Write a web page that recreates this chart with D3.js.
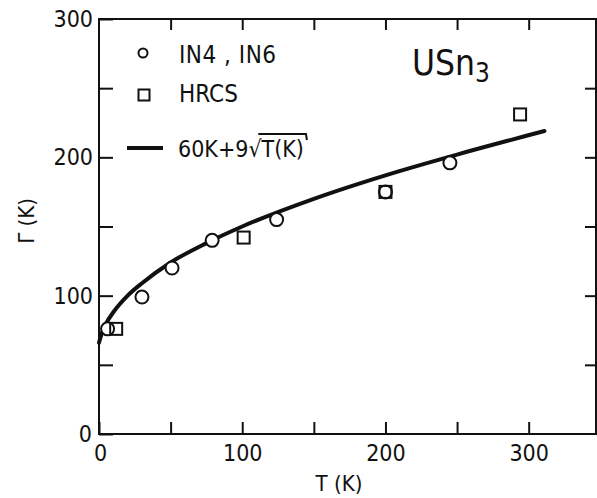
<!DOCTYPE html>
<html>
<head>
<meta charset="utf-8">
<script src="https://cdn.jsdelivr.net/npm/d3@7"></script>
<style>
  body { margin: 0; background: #fff; }
  text { font-family: "DejaVu Sans Condensed", "DejaVu Sans", sans-serif; fill: #111; }
</style>
</head>
<body>
<svg id="chart" width="597" height="498"></svg>
<script>
// IN4, IN6 (open circles)
const tofT = [6, 30, 51, 79, 124, 200, 245];
const tofG = [76, 99, 120, 140, 155, 175, 196];

// HRCS (open squares)
const hrcsT = [12, 101, 200, 294];
const hrcsG = [76, 142, 175, 231];

// 60K + 9 sqrt(T) curve
const fitT = [0, 2, 5, 10, 20, 30, 50, 75, 100, 150, 200, 250, 311];
const fitG = [66, 73, 80, 88, 100, 109, 124, 138, 150, 170, 187, 202, 219];

// ticks
const xTicks = [0, 50, 100, 150, 200, 250, 300];
const xLabels = [0, 100, 200, 300];
const yTicks = [0, 50, 100, 150, 200, 250, 300];
const yLabels = [0, 100, 200, 300];

const svg = d3.select("#chart");

const x = d3.scaleLinear().domain([0, 347]).range([99, 596]);
const y = d3.scaleLinear().domain([0, 300]).range([434, 19]);

const ink = "#111";

// frame
svg.append("rect")
    .attr("x", x(0)).attr("y", y(300))
    .attr("width", x(347) - x(0))
    .attr("height", y(0) - y(300))
    .attr("fill", "none")
    .attr("stroke", ink)
    .attr("stroke-width", 2);

const fmt = d => (xLabels.includes(d) ? d : "");

// bottom axis (inward ticks)
const gx = svg.append("g")
    .attr("transform", `translate(0,${y(0)})`)
    .call(d3.axisBottom(x).tickValues(xTicks).tickSizeInner(-12).tickSizeOuter(0).tickPadding(11).tickFormat(fmt));

// top axis
const gt = svg.append("g")
    .attr("transform", `translate(0,${y(300)})`)
    .call(d3.axisTop(x).tickValues(xTicks.slice(1)).tickSizeInner(-11).tickSizeOuter(0).tickFormat(""));

// left axis
const gy = svg.append("g")
    .attr("transform", `translate(${x(0)},0)`)
    .call(d3.axisLeft(y).tickValues(yTicks).tickSizeInner(-14).tickSizeOuter(0).tickPadding(6)
        .tickFormat(d => (yLabels.includes(d) ? d : "")));

// right axis
const gr = svg.append("g")
    .attr("transform", `translate(${x(347)},0)`)
    .call(d3.axisRight(y).tickValues(yTicks.slice(1, -1)).tickSizeInner(-11).tickSizeOuter(0).tickFormat(""));

[gx, gt, gy, gr].forEach(g => {
    g.select(".domain").remove();
    g.selectAll(".tick line").attr("stroke", ink).attr("stroke-width", 2);
    g.selectAll(".tick text").style("font-size", "23px").attr("fill", ink);
});

// nudge the two zeros like the original
gy.selectAll(".tick").filter(d => d === 0).select("text").attr("dx", "-1");
gx.selectAll(".tick").filter(d => d === 0).select("text").attr("dx", "1");

// axis titles
svg.append("text")
    .attr("x", 339).attr("y", 491)
    .attr("text-anchor", "middle")
    .style("font-size", "22px")
    .text("T (K)");

svg.append("text")
    .attr("transform", `translate(34,221) rotate(-90)`)
    .attr("text-anchor", "middle")
    .style("font-size", "22px")
    .text("Γ (K)");

// fit curve
const fit = fitT.map((t, i) => [t, fitG[i]]);
svg.append("path")
    .datum(fit)
    .attr("fill", "none")
    .attr("stroke", ink)
    .attr("stroke-width", 4)
    .attr("stroke-linecap", "round")
    .attr("d", d3.line().x(d => x(d[0])).y(d => y(d[1])).curve(d3.curveMonotoneX));

// IN4, IN6 circles
svg.selectAll(".tof")
    .data(tofT.map((t, i) => [t, tofG[i]]))
    .join("circle")
    .attr("class", "tof")
    .attr("cx", d => x(d[0]))
    .attr("cy", d => y(d[1]))
    .attr("r", 6.5)
    .attr("fill", "#fff")
    .attr("stroke", ink)
    .attr("stroke-width", 2);

// HRCS squares
const sq = 12;
svg.selectAll(".hrcs")
    .data(hrcsT.map((t, i) => [t, hrcsG[i]]))
    .join("rect")
    .attr("class", "hrcs")
    .attr("x", d => x(d[0]) - sq / 2)
    .attr("y", d => y(d[1]) - sq / 2)
    .attr("width", sq)
    .attr("height", sq)
    .attr("fill", "none")
    .attr("stroke", ink)
    .attr("stroke-width", 2);

// legend
const lg = svg.append("g");
lg.append("circle").attr("cx", 143).attr("cy", 53).attr("r", 4.5)
    .attr("fill", "none").attr("stroke", ink).attr("stroke-width", 2);
lg.append("text").attr("x", 179).attr("y", 63).style("font-size", "24px")
    .style("letter-spacing", "0.5px").text("IN4 , IN6");

lg.append("rect").attr("x", 138.5).attr("y", 89.5).attr("width", 11).attr("height", 11)
    .attr("fill", "none").attr("stroke", ink).attr("stroke-width", 2);
lg.append("text").attr("x", 179).attr("y", 102).style("font-size", "24px").text("HRCS");

lg.append("line").attr("x1", 127).attr("x2", 163).attr("y1", 148).attr("y2", 148)
    .attr("stroke", ink).attr("stroke-width", 4);
const ft = lg.append("text").attr("x", 178).attr("y", 157).style("font-size", "23px");
ft.append("tspan").text("60K+9√");
ft.append("tspan").text("T(K)");
// overline of the radical
const full = ft.node().getComputedTextLength();
const left = ft.node().getSubStringLength(0, 5);
const sqrtW = ft.node().getSubStringLength(5, 1);
const x0 = 178 + left + sqrtW * 0.75, x1 = 178 + full + 2;
lg.append("path")
    .attr("d", `M${x0},134 L${x1},134 L${x1 + 1},140`)
    .attr("fill", "none").attr("stroke", ink).attr("stroke-width", 2);

// compound name
const nm = svg.append("text").attr("x", 412).attr("y", 75).style("font-size", "35px");
nm.append("tspan").text("USn");
nm.append("tspan").attr("dy", 7).style("font-size", "26px").text("3");
</script>
</body>
</html>
